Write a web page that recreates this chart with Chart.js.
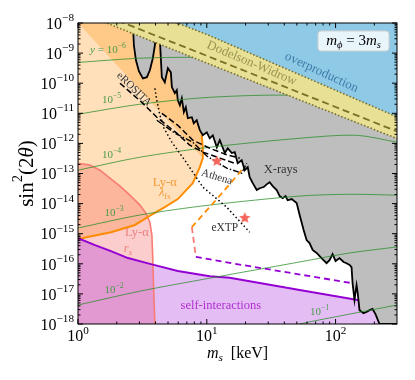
<!DOCTYPE html>
<html>
<head>
<meta charset="utf-8">
<script src="https://cdn.jsdelivr.net/npm/chart.js"></script>
<style>
  html, body { margin: 0; padding: 0; background: #fff; }
  canvas { display: block; }
</style>
</head>
<body>
<canvas id="chart" width="415" height="380"></canvas>
<script>
// every value is a log10: x = log10(m_s / keV), y = log10(sin^2 2theta)
const xMin = 0, xMax = 2.477;
const yMin = -18, yMax = -8;
const xDecades = [0, 1, 2];
const yDecades = [-8, -9, -10, -11, -12, -13, -14, -15, -16, -17, -18];

// Ly-alpha free streaming (orange)
const lyaFsX = [0, 0.256, 0.442, 0.566, 0.674, 0.775, 0.891, 0.946, 0.969, 0.969, 0.961];
const lyaFsY = [-15.18, -14.95, -14.71, -14.38, -14.12, -13.85, -13.32, -12.79, -12.49, -12.16, -11.73];

// Ly-alpha r_s (salmon)
const lyaRsX = [0, 0.093, 0.171, 0.248, 0.326, 0.403, 0.481, 0.527, 0.558, 0.574, 0.581, 0.589, 0.597];
const lyaRsY = [-12.66, -12.72, -12.89, -13.15, -13.42, -13.72, -14.05, -14.32, -14.62, -15.05, -15.88, -17.04, -18.0];

// self-interactions (purple)
const selfX = [0, 0.132, 0.256, 0.388, 0.566, 0.775, 1.023, 1.178, 1.721, 2.171, 2.419];
const selfY = [-15.15, -15.38, -15.58, -15.81, -16.01, -16.24, -16.41, -16.46, -16.87, -17.20, -17.37];

// X-ray bound (black, gray above)
const xrayX = [0.426, 0.434, 0.450, 0.473, 0.504, 0.535, 0.558, 0.581, 0.597, 0.612, 0.628, 0.636,
  0.651, 0.674, 0.698, 0.721, 0.729, 0.752, 0.767, 0.775, 0.791, 0.806, 0.822, 0.837, 0.853, 0.884,
  0.899, 0.922, 0.946, 0.969, 1.000, 1.023, 1.047, 1.078, 1.101, 1.140, 1.163, 1.194, 1.217, 1.240,
  1.271, 1.295, 1.318, 1.333, 1.357, 1.388, 1.411, 1.442, 1.465, 1.488, 1.512, 1.543, 1.566, 1.589,
  1.612, 1.628, 1.659, 1.698, 1.721, 1.752, 1.775, 1.798, 1.822, 1.853, 1.891, 1.930, 1.953, 1.977,
  2.000, 2.031, 2.062, 2.085, 2.109, 2.124, 2.132, 2.147, 2.155, 2.163, 2.171, 2.186, 2.217, 2.240,
  2.264, 2.287, 2.310, 2.341, 2.477];
const xrayY = [-8.01, -8.74, -9.24, -9.60, -9.84, -9.80, -9.57, -9.17, -8.74, -8.01, -8.01, -8.57,
  -9.80, -9.97, -9.50, -9.64, -10.13, -10.33, -10.23, -10.57, -10.73, -10.50, -10.96, -10.80, -11.16, -11.13,
  -11.33, -11.23, -11.56, -11.73, -11.63, -11.83, -11.73, -12.13, -11.89, -12.32, -12.16, -12.32, -12.29, -12.66,
  -12.56, -12.89, -12.79, -13.12, -13.32, -13.55, -13.49, -13.45, -13.36, -13.29, -13.42, -13.55, -13.75, -13.82,
  -13.75, -13.89, -13.85, -13.98, -14.38, -14.88, -15.21, -15.31, -15.54, -15.64, -15.81, -15.98, -15.88, -15.68,
  -15.91, -15.81, -15.94, -15.98, -16.04, -16.11, -16.64, -17.20, -16.94, -16.71, -16.94, -17.54, -17.64, -17.60,
  -17.54, -17.50, -17.67, -18.0, -18.0];

// Dodelson-Widrow band
const dwX = [0.15, 1.0, 2.477];
const dwLowY = [-7.88, -9.33, -11.84];
const dwMidY = [-7.65, -9.09, -11.60];
const dwHighY = [-6.97, -8.38, -11.12];

// y contours (green)
const y6X = [0, 0.48, 0.89, 1.3, 1.8, 2.477], y6Y = [-9.31, -9.17, -9.14, -9.18, -9.3, -9.5];
const y5X = [0, 0.48, 1.02, 1.67, 2.11, 2.477], y5Y = [-11.03, -10.70, -10.47, -10.40, -10.57, -10.90];
const y4X = [0, 0.48, 1.02, 1.72, 2.16, 2.477], y4Y = [-12.89, -12.46, -12.13, -11.83, -11.73, -11.96];
const y3X = [0, 0.48, 1.02, 1.72, 2.11, 2.477], y3Y = [-14.81, -14.38, -14.05, -13.75, -13.69, -13.72];
const y2X = [0, 0.48, 1.02, 1.72, 2.11, 2.477], y2Y = [-17.37, -16.91, -16.48, -15.94, -15.64, -15.44];
const y1X = [1.6, 1.72, 2.11, 2.477], y1Y = [-18.15, -18.0, -17.67, -17.37];

// future sensitivities
const eroAX = [0.326, 0.504, 0.612, 0.767, 0.868, 0.969, 1.101, 1.217];
const eroAY = [-10.00, -10.67, -11.13, -11.66, -12.06, -12.29, -12.49, -12.66];
const eroBX = [0.651, 0.775, 0.891, 1.023, 1.163, 1.256];
const eroBY = [-11.00, -11.40, -11.89, -12.16, -12.39, -12.49];
const athenaX = [0.612, 0.752, 0.891, 1.0, 1.155, 1.271, 1.310];
const athenaY = [-11.23, -11.66, -11.96, -12.42, -12.82, -12.99, -12.66];
const extpX = [0.597, 0.612, 0.636, 0.667, 0.729, 0.829, 0.969, 1.155, 1.333];
const extpY = [-10.17, -10.57, -11.06, -11.49, -11.96, -12.56, -13.45, -14.12, -14.95];
const lyaFutX = [1.271, 1.078, 0.884], lyaFutY = [-12.89, -13.85, -14.78];
const rsFutX = [0.884, 0.915], rsFutY = [-14.78, -15.77];
const selfFutX = [0.915, 1.178, 2.124], selfFutY = [-15.77, -15.97, -16.64];
const starX = [1.078, 1.295], starY = [-12.59, -14.48];

const SERIF = '"Liberation Serif", "DejaVu Serif", serif';
const R = t => ({ t }), I = t => ({ t, i: true });
const SUP = t => ({ t, s: 'sup' }), SUB = t => ({ t, s: 'sub' }), ISUB = t => ({ t, s: 'sub', i: true });

const labels = [
  { parts: [R('X-rays')], x: 1.574, y: -12.89, size: 12.5, color: '#333' },
  { parts: [R('eXTP')], x: 1.14, y: -14.82, size: 11.5, color: '#333' },
  { parts: [R('Athena')], x: 1.078, y: -13.12, size: 11, color: '#333', rot: 17 },
  { parts: [R('eROSITA')], x: 0.434, y: -10.2, size: 11, color: '#333', rot: 44 },
  { parts: [R('Ly-α')], x: 0.674, y: -13.29, size: 12.5, color: '#f59a36' },
  { parts: [I('λ'), SUB('fs')], x: 0.674, y: -13.65, size: 12.5, color: '#f59a36' },
  { parts: [R('Ly-α')], x: 0.457, y: -14.98, size: 12.5, color: '#ee7f7f' },
  { parts: [I('r'), ISUB('s')], x: 0.388, y: -15.51, size: 12.5, color: '#ee7f7f' },
  { parts: [R('self-interactions')], x: 1.109, y: -17.40, size: 12.5, color: '#b02ed0' },
  { parts: [R('Dodelson-Widrow')], x: 1.349, y: -9.34, size: 13, color: '#9c9552', rot: 23 },
  { parts: [R('overproduction')], x: 1.891, y: -9.64, size: 13, color: '#3d7cab', rot: 25 },
  { parts: [I('y'), R(' = 10'), SUP('−6')], x: 0.233, y: -8.91, size: 11, color: '#4a9a4a' },
  { parts: [R('10'), SUP('−5')], x: 0.26, y: -10.57, size: 11, color: '#4a9a4a' },
  { parts: [R('10'), SUP('−4')], x: 0.26, y: -12.39, size: 11, color: '#4a9a4a' },
  { parts: [R('10'), SUP('−3')], x: 0.28, y: -14.32, size: 11, color: '#4a9a4a' },
  { parts: [R('10'), SUP('−2')], x: 0.28, y: -16.87, size: 11, color: '#4a9a4a' },
  { parts: [R('10'), SUP('−1')], x: 1.876, y: -17.6, size: 11, color: '#4a9a4a' }
];

function pts(xs, ys) { return xs.map((x, i) => ({ x, y: ys[i] })); }
function area(xs, ys, color, fill, order) {
  return { data: pts(xs, ys), showLine: true, pointRadius: 0, borderWidth: 0,
    borderColor: 'transparent', backgroundColor: color, fill, order };
}
function curve(xs, ys, color, width, dash, order, tension) {
  return { data: pts(xs, ys), showLine: true, pointRadius: 0, borderColor: color,
    borderWidth: width, borderDash: dash || [], fill: false, order, tension: tension || 0 };
}

function starImage(r, color) {
  const c = document.createElement('canvas');
  c.width = c.height = 2 * r + 2;
  const g = c.getContext('2d');
  g.beginPath();
  for (let i = 0; i < 10; i++) {
    const a = -Math.PI / 2 + i * Math.PI / 5;
    const rr = i % 2 ? r * 0.45 : r;
    g.lineTo(r + 1 + rr * Math.cos(a), r + 1 + rr * Math.sin(a));
  }
  g.closePath();
  g.fillStyle = color;
  g.fill();
  return c;
}

const green = 'rgba(40,140,40,0.85)';
const datasets = [
  area(lyaFsX, lyaFsY, 'rgba(255,140,0,0.27)', 'end', 100),
  area(lyaRsX, lyaRsY, 'rgba(240,70,70,0.27)', 'start', 99),
  area(selfX, selfY, 'rgba(155,0,215,0.26)', 'start', 98),
  curve(lyaRsX, lyaRsY, '#f87c74', 1.6, null, 97),
  curve(lyaFsX, lyaFsY, '#ff8c00', 2, null, 96),
  curve(selfX, selfY, '#9400d3', 2, null, 95),
  area(xrayX, xrayY, '#bebebe', 'end', 90),
  curve(xrayX, xrayY, '#000', 1.8, null, 89),
  curve(y6X, y6Y, green, 0.9, null, 80, 0.3),
  curve(y5X, y5Y, green, 0.9, null, 80, 0.3),
  curve(y4X, y4Y, green, 0.9, null, 80, 0.3),
  curve(y3X, y3Y, green, 0.9, null, 80, 0.3),
  curve(y2X, y2Y, green, 0.9, null, 80, 0.3),
  curve(y1X, y1Y, green, 0.9, null, 80, 0.3),
  curve(eroAX, eroAY, '#000', 1.5, [6, 3], 70),
  curve(eroBX, eroBY, '#000', 1.5, [6, 3], 70),
  curve(athenaX, athenaY, '#000', 1.4, [6, 2, 1.5, 2], 70),
  curve(extpX, extpY, '#000', 1.5, [1.5, 2.5], 70),
  curve(lyaFutX, lyaFutY, '#ff8c00', 1.8, [6, 4], 70),
  curve(rsFutX, rsFutY, '#f87c74', 1.8, [6, 4], 70),
  curve(selfFutX, selfFutY, '#9400d3', 1.8, [6, 4], 70)
];
const blueIndex = datasets.length;
datasets.push(area(dwX, dwHighY, '#8ecae6', 'end', 60));
datasets.push(area(dwX, dwLowY, '#e8e094', blueIndex, 59));
datasets.push(curve(dwX, dwHighY, '#7a7026', 1.6, [1.5, 2], 50));
datasets.push(curve(dwX, dwLowY, '#7a7026', 1.6, [1.5, 2], 50));
datasets.push(curve(dwX, dwMidY, '#7a7026', 1.8, [7, 4], 50));
datasets.push({ data: pts(starX, starY), showLine: false, pointStyle: starImage(6, '#f4665a'),
  pointRadius: 6, order: 40 });

function partFont(p, size) {
  const sz = p.s ? size * 0.7 : size;
  return (p.i ? 'italic ' : '') + sz + 'px ' + SERIF;
}
function drawRich(ctx, parts, x, y, size, color, align) {
  ctx.save();
  ctx.fillStyle = color;
  ctx.textBaseline = 'middle';
  ctx.textAlign = 'left';
  let w = 0;
  const ws = parts.map(p => { ctx.font = partFont(p, size); const m = ctx.measureText(p.t).width; w += m; return m; });
  let cx = align === 'right' ? x - w : align === 'left' ? x : x - w / 2;
  parts.forEach((p, i) => {
    ctx.font = partFont(p, size);
    const dy = p.s === 'sup' ? -size * 0.4 : p.s === 'sub' ? size * 0.28 : 0;
    ctx.fillText(p.t, cx, y + dy);
    cx += ws[i];
  });
  ctx.restore();
}

const decorations = {
  id: 'decorations',
  afterDatasetsDraw(chart) {
    const ctx = chart.ctx, xs = chart.scales.x, ys = chart.scales.y;
    labels.forEach(l => {
      const px = xs.getPixelForValue(l.x), py = ys.getPixelForValue(l.y);
      ctx.save();
      ctx.translate(px, py);
      if (l.rot) ctx.rotate(l.rot * Math.PI / 180);
      drawRich(ctx, l.parts, 0, 0, l.size, l.color, 'center');
      ctx.restore();
    });
  },
  afterDraw(chart) {
    const ctx = chart.ctx, a = chart.chartArea, xs = chart.scales.x, ys = chart.scales.y;
    ctx.save();
    // legend box
    const bw = 71, bh = 20, bx = a.right - 8 - bw, by = a.top + 8;
    ctx.beginPath();
    ctx.roundRect(bx, by, bw, bh, 3);
    ctx.fillStyle = 'rgba(255,255,255,0.8)';
    ctx.fill();
    ctx.strokeStyle = '#d0d0d0';
    ctx.lineWidth = 1;
    ctx.stroke();
    drawRich(ctx, [I('m'), ISUB('ϕ'), R(' = 3'), I('m'), ISUB('s')], bx + bw / 2, by + bh / 2, 15, '#000', 'center');

    // frame
    ctx.strokeStyle = '#000';
    ctx.lineWidth = 1;
    ctx.strokeRect(a.left, a.top, a.right - a.left, a.bottom - a.top);

    // ticks (inward, all sides)
    ctx.beginPath();
    xDecades.forEach(n => {
      for (let k = 1; k <= 9; k++) {
        const v = n + Math.log10(k);
        if (v > xMax) break;
        const p = xs.getPixelForValue(v), len = k === 1 ? 5 : 2.5;
        ctx.moveTo(p, a.bottom); ctx.lineTo(p, a.bottom - len);
        ctx.moveTo(p, a.top); ctx.lineTo(p, a.top + len);
      }
    });
    yDecades.forEach(n => {
      for (let k = 1; k <= 9; k++) {
        const v = n + Math.log10(k);
        if (v > yMax) break;
        const p = ys.getPixelForValue(v), len = k === 1 ? 5 : 2.5;
        ctx.moveTo(a.left, p); ctx.lineTo(a.left + len, p);
        ctx.moveTo(a.right, p); ctx.lineTo(a.right - len, p);
      }
    });
    ctx.stroke();

    // tick labels
    xDecades.forEach(n => {
      drawRich(ctx, [R('10'), SUP(String(n))], xs.getPixelForValue(n), a.bottom + 13, 16, '#000', 'center');
    });
    yDecades.forEach(n => {
      drawRich(ctx, [R('10'), SUP('−' + String(-n))], a.left - 4, ys.getPixelForValue(n) + 1.5, 16, '#000', 'right');
    });

    // axis titles
    drawRich(ctx, [I('m'), ISUB('s'), R('  [keV]')], (a.left + a.right) / 2, a.bottom + 30, 16, '#000', 'center');
    ctx.translate(27, (a.top + a.bottom) / 2);
    ctx.rotate(-Math.PI / 2);
    drawRich(ctx, [R('sin'), SUP('2'), R('(2'), I('θ'), R(')')], 0, 0, 21, '#000', 'center');
    ctx.restore();
  }
};

new Chart(document.getElementById('chart'), {
  type: 'scatter',
  data: { datasets },
  options: {
    responsive: false,
    animation: false,
    devicePixelRatio: 1,
    layout: { padding: { left: 78, right: 18, top: 23, bottom: 56 } },
    scales: {
      x: { type: 'linear', min: xMin, max: xMax, display: false },
      y: { type: 'linear', min: yMin, max: yMax, display: false }
    },
    plugins: { legend: { display: false }, tooltip: { enabled: false } }
  },
  plugins: [decorations]
});
</script>
</body>
</html>
